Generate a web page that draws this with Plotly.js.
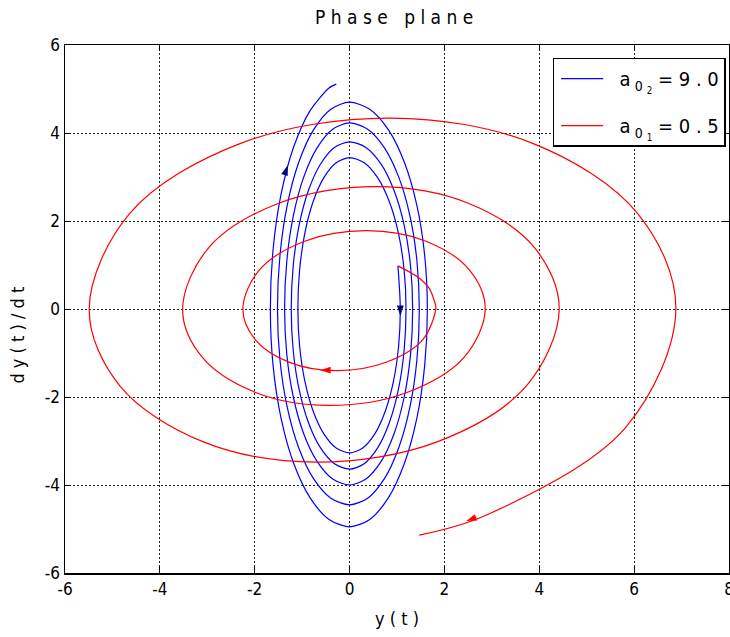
<!DOCTYPE html>
<html>
<head>
<meta charset="utf-8">
<script src="https://cdn.plot.ly/plotly-3.0.1.min.js"></script>
<style>html,body{margin:0;padding:0;background:#fff}#chart{width:730px;height:637px}</style>
</head>
<body>
<div id="chart"></div>
<script>
// Blue trajectory (a0 = 9.0), clockwise from the start (1,1)
const blueY = [1.02, 1.05, 1.07,
  1.034, 0.927, 0.756, 0.535, 0.277, 0,
  -0.282, -0.545, -0.771, -0.944, -1.053, -1.09,
  -1.053, -0.944, -0.771, -0.545, -0.282, 0,
  0.308, 0.595, 0.841, 1.031, 1.150, 1.19,
  1.150, 1.031, 0.841, 0.595, 0.308, 0,
  -0.319, -0.615, -0.870, -1.065, -1.188, -1.23,
  -1.188, -1.065, -0.870, -0.615, -0.319, 0,
  0.344, 0.665, 0.940, 1.152, 1.285, 1.33,
  1.285, 1.152, 0.940, 0.665, 0.344, 0,
  -0.355, -0.685, -0.969, -1.186, -1.323, -1.37,
  -1.323, -1.186, -0.969, -0.685, -0.355, 0,
  0.381, 0.735, 1.039, 1.273, 1.420, 1.47,
  1.420, 1.273, 1.039, 0.735, 0.381, 0,
  -0.394, -0.76, -1.075, -1.316, -1.468, -1.52,
  -1.468, -1.316, -1.075, -0.76, -0.394, 0,
  0.425, 0.82, 1.159, 1.420, 1.584, 1.64,
  1.584, 1.420, 1.159, 0.82, 0.425, 0,
  -0.433, -0.835, -1.181, -1.446, -1.613, -1.67,
  -1.613, -1.446, -1.181, -0.835, -0.433, -0.28];
const blueDY = [0.98, 0.5, 0,
  -0.847, -1.635, -2.312, -2.832, -3.159, -3.27,
  -3.159, -2.832, -2.312, -1.635, -0.847, 0,
  0.891, 1.72, 2.432, 2.979, 3.323, 3.44,
  3.323, 2.979, 2.432, 1.72, 0.891, 0,
  -0.943, -1.82, -2.573, -3.152, -3.516, -3.64,
  -3.516, -3.152, -2.573, -1.82, -0.943, 0,
  0.984, 1.9, 2.687, 3.291, 3.671, 3.80,
  3.671, 3.291, 2.687, 1.9, 0.984, 0,
  -1.036, -2.0, -2.828, -3.464, -3.864, -4.0,
  -3.864, -3.464, -2.828, -2.0, -1.036, 0,
  1.096, 2.115, 2.991, 3.663, 4.086, 4.23,
  4.086, 3.663, 2.991, 2.115, 1.096, 0,
  -1.153, -2.225, -3.146, -3.854, -4.299, -4.45,
  -4.299, -3.854, -3.146, -2.225, -1.153, 0,
  1.217, 2.35, 3.323, 4.070, 4.540, 4.70,
  4.540, 4.070, 3.323, 2.35, 1.217, 0,
  -1.282, -2.475, -3.500, -4.287, -4.782, -4.95,
  -4.782, -4.287, -3.500, -2.475, -1.282, 0,
  1.347, 2.6, 3.676, 4.503, 5.023, 5.11];

// Red trajectory (a0 = 0.5)
const redY = [1.02, 1.47, 1.68, 1.79, 1.82, 1.54, 0.77, -0.28,
  -1.265, -1.986, -2.25, -1.90, -0.945, 0.36,
  1.61, 2.525, 2.86, 2.418, 1.21, -0.44,
  -1.98, -3.107, -3.52, -2.973, -1.48, 0.56,
  2.49, 3.903, 4.42, 3.734, 1.86, -0.70,
  -3.095, -4.848, -5.49, -4.638, -2.31, 0.87,
  3.875, 6.075, 6.88, 5.814, 2.90, 1.47];
const redDY = [0.98, 0.70, 0.47, 0.17, 0.02, -0.70, -1.21, -1.40,
  -1.212, -0.70, 0, 0.89, 1.54, 1.78,
  1.541, 0.89, 0, -1.095, -1.897, -2.19,
  -1.897, -1.095, 0, 1.39, 2.408, 2.78,
  2.408, 1.39, 0, -1.74, -3.014, -3.48,
  -3.014, -1.74, 0, 2.17, 3.759, 4.34,
  3.759, 2.17, 0, -2.70, -4.677, -5.14];

// Direction arrows (tip positions and heading in degrees, clockwise from up)
const blueArrowY = [1.07, -1.30];
const blueArrowDY = [-0.16, 3.27];
const blueArrowDir = [180, 19];
const redArrowY = [-0.62, 2.46];
const redArrowDY = [-1.39, -4.82];
const redArrowDir = [270, 249];

const xTicks = [-6, -4, -2, 0, 2, 4, 6, 8];
const xTickText = ['-6', '-4', '-2', '0', '2', '4', '6', '8'];
const yTicks = [-6, -4, -2, 0, 2, 4, 6];
const yTickText = ['-6', '-4', '-2', '0', '2', '4', '6'];
const blueName = '\u00a0\u00a0a<sub> 0 <sub>2</sub></sub> = 9 . 0';
const redName = '\u00a0\u00a0a<sub> 0 <sub>1</sub></sub> = 0 . 5';
const yTitle = 'd y ( t ) / d t';

const FONT = '"Liberation Sans Narrow", "DejaVu Sans Condensed", "Liberation Sans", sans-serif';

const traces = [
  {x: blueY, y: blueDY, type: 'scatter', mode: 'lines', name: blueName,
   line: {color: '#0000ff', width: 1.2, shape: 'spline', smoothing: 0.8}, legendgroup: 'b'},
  {x: redY, y: redDY, type: 'scatter', mode: 'lines', name: redName,
   line: {color: '#ff0000', width: 1.2, shape: 'spline', smoothing: 1}, legendgroup: 'r'},
  {x: blueArrowY, y: blueArrowDY, type: 'scatter', mode: 'markers', showlegend: false, hoverinfo: 'skip',
   marker: {symbol: 'arrow', size: 11, angle: blueArrowDir, color: '#000080', line: {width: 0}}},
  {x: redArrowY, y: redArrowDY, type: 'scatter', mode: 'markers', showlegend: false, hoverinfo: 'skip',
   marker: {symbol: 'arrow', size: 11, angle: redArrowDir, color: '#ff0000', line: {width: 0}}}
];

const axisCommon = {
  showline: true, linecolor: '#000', linewidth: 1.5, mirror: 'ticks',
  ticks: 'inside', ticklen: 6, tickcolor: '#000', tickwidth: 1,
  showgrid: true, gridcolor: '#222', gridwidth: 1, griddash: '2px,2px',
  zeroline: false, ticklabeloverflow: 'allow',
  tickfont: {family: FONT, size: 17, color: '#000'}
};

const layout = {
  width: 730, height: 637,
  margin: {l: 65, r: 1, t: 45, b: 64, autoexpand: false},
  paper_bgcolor: '#fff', plot_bgcolor: '#fff',
  font: {family: FONT, color: '#000'},
  title: {text: 'P h a s e   p l a n e', x: 0.54, xanchor: 'center', y: 0.972, yanchor: 'middle',
          font: {family: FONT, size: 19, color: '#000'}},
  xaxis: Object.assign({}, axisCommon, {range: [-6, 8], tickvals: xTicks, ticktext: xTickText,
          title: {text: 'y ( t )', standoff: 14, font: {family: FONT, size: 18, color: '#000'}}}),
  yaxis: Object.assign({}, axisCommon, {range: [-6, 6], tickvals: yTicks, ticktext: yTickText}),
  annotations: [{text: yTitle, xref: 'paper', yref: 'paper', x: -0.072, y: 0.45,
                 xanchor: 'center', yanchor: 'middle', textangle: -90, showarrow: false,
                 font: {family: FONT, size: 18, color: '#000'}}],
  showlegend: true,
  legend: {x: 0.995, y: 0.976, xanchor: 'right', yanchor: 'top',
           bgcolor: '#fff', bordercolor: '#000', borderwidth: 1.5,
           font: {family: FONT, size: 20, color: '#000'}, tracegroupgap: 18,
           itemwidth: 42, indentation: 2}
};

Plotly.newPlot('chart', traces, layout, {displayModeBar: false, staticPlot: true});
</script>
</body>
</html>
